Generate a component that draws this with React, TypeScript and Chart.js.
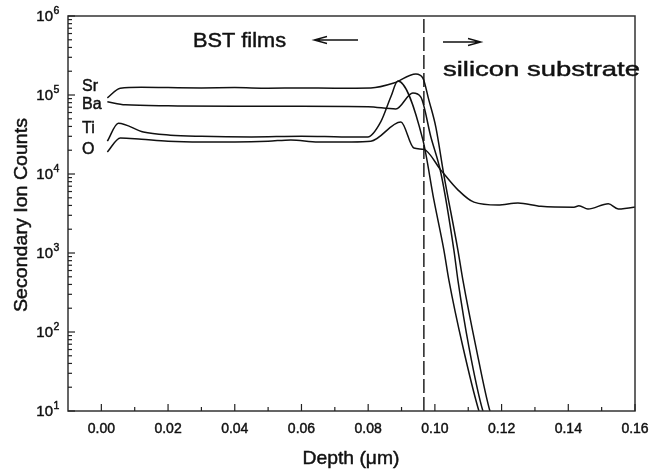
import React, { useEffect, useRef } from 'react';
import { Chart, registerables } from 'chart.js';

Chart.register(...registerables);

const FONT = '"Liberation Sans", Arial, Helvetica, sans-serif';

// ---- data (depth in µm, secondary ion counts) ----
const srDepth = [0.0018, 0.0057, 0.012, 0.02, 0.03, 0.04, 0.05, 0.06, 0.07, 0.0808, 0.0877, 0.0943, 0.0964, 0.0982, 0.1003, 0.1027, 0.1069, 0.1084, 0.1123, 0.1165, 0.118];
const srCounts = [92000, 122000, 125000, 124000, 123000, 124000, 122000, 123000, 122000, 123000, 142000, 185000, 164000, 86000, 39000, 9700, 1090, 455, 65, 10, 7];

const baDepth = [0.0018, 0.0072, 0.02, 0.04, 0.06, 0.08, 0.0883, 0.0934, 0.0958, 0.0988, 0.1018, 0.1057, 0.1069, 0.1102, 0.1144, 0.116];
const baCounts = [82000, 75000, 73000, 72000, 72000, 71000, 66500, 106000, 94000, 29400, 10300, 1090, 455, 65, 10, 7];

const tiDepth = [0.0018, 0.0051, 0.0126, 0.0207, 0.03, 0.045, 0.06, 0.072, 0.0799, 0.0838, 0.0868, 0.0889, 0.0964, 0.0997, 0.1027, 0.1042, 0.1084, 0.1132, 0.1145];
const tiCounts = [26000, 44000, 34000, 31000, 30000, 29500, 30000, 29500, 29400, 46000, 95000, 150000, 27000, 4700, 1090, 455, 65, 10, 7];

const oDepth = [0.0018, 0.0057, 0.012, 0.02, 0.03, 0.04, 0.05, 0.0568, 0.065, 0.075, 0.0808, 0.0898, 0.0937, 0.0967, 0.1018, 0.1069, 0.1117, 0.1189, 0.1249, 0.1318, 0.1417, 0.1432, 0.1459, 0.152, 0.155, 0.1598, 0.1604];
const oCounts = [19000, 28600, 27500, 26000, 25500, 25500, 26000, 27000, 25500, 25500, 26000, 45500, 21300, 20500, 11200, 6300, 4400, 4050, 4300, 3900, 3800, 3950, 3600, 4200, 3600, 3800, 3850];

const interfaceDepth = 0.0967;

const xMajorTicks = [0.0, 0.02, 0.04, 0.06, 0.08, 0.1, 0.12, 0.14, 0.16];
const xTickLabels = ['0.00', '0.02', '0.04', '0.06', '0.08', '0.10', '0.12', '0.14', '0.16'];
const yExponents = [1, 2, 3, 4, 5, 6];

const seriesNames = ['Sr', 'Ba', 'Ti', 'O'];

const zip = (xs: number[], ys: number[]) => xs.map((x, i) => ({ x, y: ys[i] }));

function drawFit(ctx: CanvasRenderingContext2D, text: string, x: number, y: number, size: number, width: number | null, align: CanvasTextAlign, rotate = 0) {
  ctx.save();
  ctx.font = `${size}px ${FONT}`;
  const w = ctx.measureText(text).width;
  const sx = width ? width / w : 1;
  ctx.translate(x, y);
  if (rotate) ctx.rotate(rotate);
  ctx.scale(sx, 1);
  ctx.textAlign = align;
  ctx.textBaseline = 'middle';
  ctx.fillStyle = '#111';
  ctx.strokeStyle = '#111';
  ctx.lineWidth = 0.45;
  ctx.fillText(text, 0, 0);
  ctx.strokeText(text, 0, 0);
  ctx.restore();
}

const decorPlugin = {
  id: 'decor',
  afterDraw(chart: any) {
    const ctx: CanvasRenderingContext2D = chart.ctx;
    const { left, right, top, bottom } = chart.chartArea;
    const xs = chart.scales.x;
    const ys = chart.scales.y;
    ctx.save();
    // frame
    ctx.strokeStyle = '#333';
    ctx.lineWidth = 1.5;
    ctx.strokeRect(left, top, right - left, bottom - top);

    // x ticks
    ctx.strokeStyle = '#222';
    ctx.lineWidth = 1.2;
    for (let i = 0; i <= 16; i++) {
      const v = i * 0.01;
      const px = xs.getPixelForValue(v);
      const len = i % 2 === 0 ? 7 : 4;
      ctx.beginPath();
      ctx.moveTo(px, bottom);
      ctx.lineTo(px, bottom - len);
      ctx.stroke();
    }
    xMajorTicks.forEach((v, i) => {
      drawFit(ctx, xTickLabels[i], xs.getPixelForValue(v), 429, 14, null, 'center');
    });

    // y ticks
    for (let d = 1; d <= 6; d++) {
      const py = ys.getPixelForValue(Math.pow(10, d));
      ctx.beginPath();
      ctx.moveTo(left, py);
      ctx.lineTo(left + 7, py);
      ctx.stroke();
      if (d < 6) {
        for (let m = 2; m <= 9; m++) {
          const pm = ys.getPixelForValue(m * Math.pow(10, d));
          ctx.beginPath();
          ctx.moveTo(left, pm);
          ctx.lineTo(left + 4, pm);
          ctx.stroke();
        }
      }
    }
    yExponents.forEach((e) => {
      const py = ys.getPixelForValue(Math.pow(10, e));
      drawFit(ctx, '10', 53, py + 1, 15, null, 'right');
      drawFit(ctx, String(e), 53.5, py - 5, 10.5, null, 'left');
    });

    // axis titles
    drawFit(ctx, 'Depth (\u03bcm)', 351, 459, 19, 97, 'center');
    drawFit(ctx, 'Secondary Ion Counts', 22, 215, 19, 194, 'center', -Math.PI / 2);

    // series labels
    const labelY = [87, 105, 129, 150];
    seriesNames.forEach((n, i) => drawFit(ctx, n, 82, labelY[i], 16, null, 'left'));

    // annotations
    drawFit(ctx, 'BST films', 193, 41, 20, 93, 'left');
    drawFit(ctx, 'silicon substrate', 443, 70, 21, 197, 'left');

    // arrows
    ctx.strokeStyle = '#111';
    ctx.lineWidth = 1.3;
    ctx.beginPath();
    ctx.moveTo(358, 40); ctx.lineTo(314, 40);
    ctx.moveTo(327, 36.5); ctx.lineTo(314, 40); ctx.lineTo(327, 43.5);
    ctx.stroke();
    ctx.beginPath();
    ctx.moveTo(443, 42); ctx.lineTo(481, 42);
    ctx.moveTo(468, 38.5); ctx.lineTo(481, 42); ctx.lineTo(468, 45.5);
    ctx.stroke();
    ctx.restore();
  },
};

export default function App() {
  const ref = useRef<HTMLCanvasElement | null>(null);
  useEffect(() => {
    if (!ref.current) return;
    const lineStyle = { borderColor: '#111', borderWidth: 1.5, pointRadius: 0, cubicInterpolationMode: 'monotone', fill: false };
    const chart = new Chart(ref.current, {
      type: 'line',
      data: {
        datasets: [
          { label: 'Sr', data: zip(srDepth, srCounts), ...lineStyle },
          { label: 'Ba', data: zip(baDepth, baCounts), ...lineStyle },
          { label: 'Ti', data: zip(tiDepth, tiCounts), ...lineStyle },
          { label: 'O', data: zip(oDepth, oCounts), ...lineStyle },
          {
            label: 'interface',
            data: [{ x: interfaceDepth, y: 10 }, { x: interfaceDepth, y: 1e6 }],
            borderColor: '#111', borderWidth: 1.4, borderDash: [14, 4], pointRadius: 0, fill: false,
          },
        ],
      },
      options: {
        animation: false,
        responsive: false,
        devicePixelRatio: 1,
        layout: { padding: { top: 16, right: 28, left: 0, bottom: 0 } },
        plugins: { legend: { display: false }, tooltip: { enabled: false } },
        scales: {
          x: {
            type: 'linear', min: -0.01, max: 0.16,
            grid: { display: false }, border: { display: false },
            ticks: { display: false },
            afterFit: (s: any) => { s.height = 63; },
          },
          y: {
            type: 'logarithmic', min: 10, max: 1e6,
            grid: { display: false }, border: { display: false },
            ticks: { display: false },
            afterFit: (s: any) => { s.width = 68; },
          },
        },
      },
      plugins: [decorPlugin],
    } as any);
    return () => chart.destroy();
  }, []);
  return (
    <div style={{ position: 'absolute', left: 0, top: 0, width: 663, height: 474, background: '#fff' }}>
      <canvas ref={ref} width={663} height={474} style={{ display: 'block' }} />
    </div>
  );
}
